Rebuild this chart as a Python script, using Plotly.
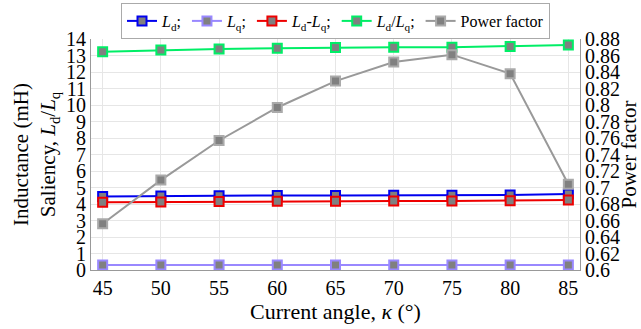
import plotly.graph_objects as go

kappa = [45, 50, 55, 60, 65, 70, 75, 80, 85]
Ld = [4.45, 4.48, 4.50, 4.52, 4.52, 4.53, 4.53, 4.55, 4.60]
Lq = [0.30, 0.30, 0.30, 0.30, 0.30, 0.30, 0.30, 0.30, 0.30]
Ld_minus_Lq = [4.10, 4.12, 4.15, 4.16, 4.17, 4.18, 4.18, 4.20, 4.25]
Ld_over_Lq = [13.23, 13.33, 13.39, 13.44, 13.48, 13.50, 13.50, 13.55, 13.64]
power_factor = [0.656, 0.709, 0.757, 0.797, 0.829, 0.852, 0.861, 0.838, 0.704]
pf_ticks = [0.6, 0.62, 0.64, 0.66, 0.68, 0.7, 0.72, 0.74, 0.76, 0.78, 0.8, 0.82, 0.84, 0.86, 0.88]
pf_labels = ["0.6", "0.62", "0.64", "0.66", "0.68", "0.7", "0.72", "0.74", "0.76", "0.78",
             "0.8", "0.82", "0.84", "0.86", "0.88"]

names = ["<i>L</i><sub>d</sub>;", "<i>L</i><sub>q</sub>;", "<i>L</i><sub>d</sub>-<i>L</i><sub>q</sub>;",
         "<i>L</i><sub>d</sub>/<i>L</i><sub>q</sub>;", "Power factor"]
colors = ["#0000ee", "#9988ff", "#ee0000", "#00ee66", "#999999"]
FONT = "Liberation Serif"

fig = go.Figure()
for name, vals, col in zip(names[:4], [Ld, Lq, Ld_minus_Lq, Ld_over_Lq], colors[:4]):
    fig.add_trace(go.Scatter(x=kappa, y=vals, name=name, mode="lines+markers",
                             line=dict(color=col, width=2),
                             marker=dict(symbol="square", size=9, color="#808080",
                                         line=dict(color=col, width=2))))
fig.add_trace(go.Scatter(x=kappa, y=power_factor, name=names[4], mode="lines+markers", yaxis="y2",
                         line=dict(color="#999999", width=2),
                         marker=dict(symbol="square", size=9, color="#808080",
                                     line=dict(color="#aaaaaa", width=2))))

fig.update_layout(
    width=641, height=329,
    margin=dict(l=91, r=61, t=39, b=59, autoexpand=False),
    paper_bgcolor="white", plot_bgcolor="white",
    font=dict(family=FONT, size=20, color="black"),
    showlegend=True,
    legend=dict(orientation="h", x=0.5, xanchor="center", y=1.0, yanchor="bottom",
                font=dict(family=FONT, size=16), itemwidth=30, bgcolor="white",
                bordercolor="#aaaaaa", borderwidth=1),
    xaxis=dict(range=[44, 86], tickvals=kappa, showgrid=True, gridcolor="#e6e6e6",
               showline=True, linecolor="#999999", zeroline=False, automargin=False,
               title=dict(text="Current angle, <i>κ</i> (°)", standoff=2, font=dict(family=FONT, size=22)),
               ticks="", tickfont=dict(family=FONT, size=20)),
    yaxis=dict(range=[0, 14], dtick=1, showgrid=True, gridcolor="#e6e6e6", automargin=False,
               showline=True, linecolor="#999999", zeroline=False, ticks="",
               title=dict(text="Inductance (mH)<br>Saliency, <i>L</i><sub>d</sub>/<i>L</i><sub>q</sub>",
                          standoff=4, font=dict(family=FONT, size=21)),
               tickfont=dict(family=FONT, size=20)),
    yaxis2=dict(range=[0.6, 0.88], tickvals=pf_ticks, ticktext=pf_labels, overlaying="y", side="right",
                showgrid=False, showline=True, linecolor="#999999", zeroline=False, ticks="",
                automargin=False,
                title=dict(text="Power factor", standoff=12, font=dict(family=FONT, size=21)),
                tickfont=dict(family=FONT, size=20)),
)
fig.write_html("out.html")
